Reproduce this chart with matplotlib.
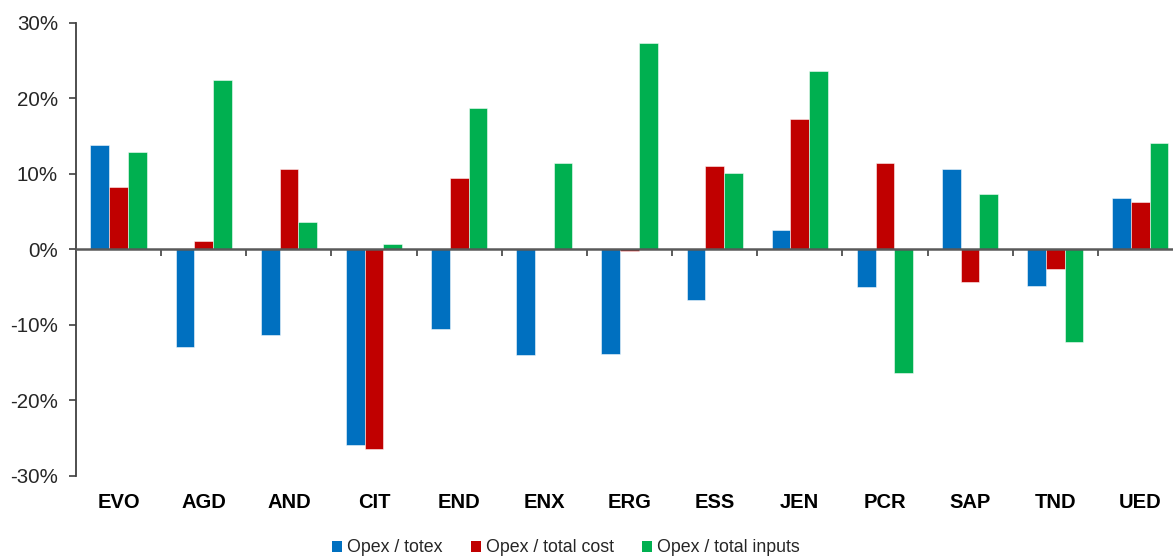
import numpy as np
import matplotlib
matplotlib.use("Agg")
import matplotlib.pyplot as plt
from matplotlib.patches import Patch
from matplotlib.ticker import FuncFormatter, FixedLocator

plt.rcParams['font.family'] = ['Liberation Sans', 'DejaVu Sans']

# data (%)
companies = ['EVO', 'AGD', 'AND', 'CIT', 'END', 'ENX', 'ERG', 'ESS', 'JEN', 'PCR', 'SAP', 'TND', 'UED']
opex_totex = [13.85, -13.0, -11.35, -25.9, -10.5, -14.0, -13.9, -6.7, 2.6, -5.0, 10.6, -4.8, 6.8]
opex_total_cost = [8.2, 1.1, 10.6, -26.5, 9.4, 0.0, -0.2, 11.1, 17.3, 11.45, -4.3, -2.65, 6.3]
opex_total_inputs = [12.96, 22.5, 3.6, 0.7, 18.75, 11.45, 27.3, 10.1, 23.7, -16.4, 7.35, -12.3, 14.15]

series = [
    ('Opex / totex', opex_totex, '#0070C0'),
    ('Opex / total cost', opex_total_cost, '#C00000'),
    ('Opex / total inputs', opex_total_inputs, '#00B050'),
]

fig = plt.figure(figsize=(11.73, 5.58), dpi=100)
ax = fig.add_axes([0.0648, 0.1475, 0.9437, 0.8113])

x = np.arange(len(companies))
w = 0.22
for i, (name, vals, col) in enumerate(series):
    ax.bar(x + (i - 1) * w, vals, width=w, color=col,
           edgecolor=(1, 1, 1, 0.6), linewidth=0.6, label=name, zorder=2)

ax.set_xlim(-0.5, len(companies) - 0.5)
ax.set_ylim(-30, 30)
ax.set_yticks(np.arange(-30, 31, 10))
ax.yaxis.set_major_formatter(FuncFormatter(lambda v, p: f'{v:.0f}%'))
ax.tick_params(axis='y', labelsize=14.8, length=5, width=1.2, color='#404040',
               pad=8, labelcolor='#262626')

# horizontal axis sits on zero, ticks between categories
for s in ['top', 'right']:
    ax.spines[s].set_visible(False)
ax.spines['bottom'].set_position(('data', 0))
ax.spines['bottom'].set_color('#595959')
ax.spines['bottom'].set_linewidth(1.8)
ax.spines['bottom'].set_zorder(3)
ax.spines['left'].set_color('#404040')
ax.spines['left'].set_linewidth(1.3)
ax.xaxis.set_major_locator(FixedLocator(x[:-1] + 0.5))
ax.set_xticklabels([])
ax.tick_params(axis='x', length=5, width=1.2, color='#404040', direction='out')

trans = ax.get_xaxis_transform()
for xi, name in zip(x, companies):
    ax.text(xi, -0.06, name, transform=trans, ha='center', va='center',
            fontsize=14.5, fontweight='bold', color='black')

handles = [Patch(facecolor=c, edgecolor='none', label=n) for n, _, c in series]
fig.legend(handles=handles, loc='center', bbox_to_anchor=(566 / 1173, 1 - 548 / 558),
           ncol=3, frameon=False, fontsize=12.8, handlelength=0.55, handleheight=0.55,
           handletextpad=0.3, columnspacing=1.6, labelcolor='#262626')

fig.savefig('out.png', dpi=100)
